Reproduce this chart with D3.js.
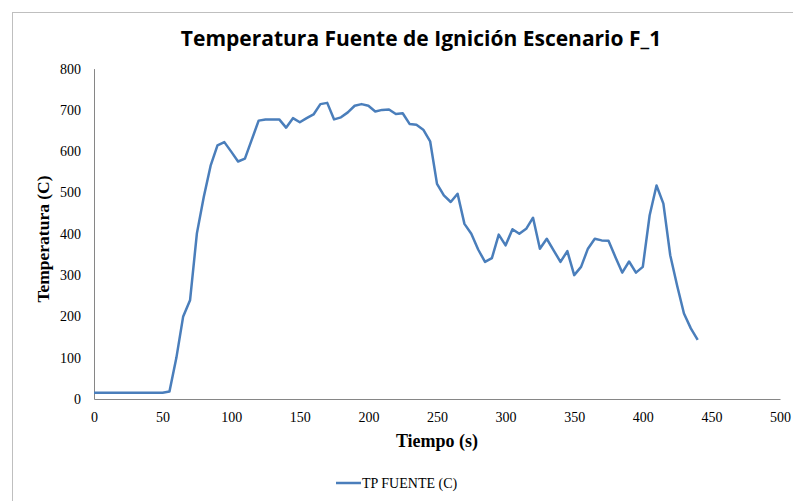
<!DOCTYPE html>
<html>
<head>
<meta charset="utf-8">
<script src="https://cdn.jsdelivr.net/npm/d3@7/dist/d3.min.js"></script>
<style>
  html, body { margin: 0; padding: 0; background: #fff; }
  svg { display: block; }
</style>
</head>
<body>
<svg id="chart" width="793" height="501"></svg>
<script>
// Ignition source temperature, scenario F_1 (time in s, temperature in C)
const tiempo = [0, 5, 10, 15, 20, 25, 30, 35, 40, 45, 50, 55, 60, 65, 70, 75, 80, 85, 90, 95,
  100, 105, 110, 115, 120, 125, 130, 135, 140, 145, 150, 155, 160, 165, 170, 175, 180, 185, 190, 195,
  200, 205, 210, 215, 220, 225, 230, 235, 240, 245, 250, 255, 260, 265, 270, 275, 280, 285, 290, 295,
  300, 305, 310, 315, 320, 325, 330, 335, 340, 345, 350, 355, 360, 365, 370, 375, 380, 385, 390, 395,
  400, 405, 410, 415, 420, 425, 430, 435, 440];
const tpFuente = [15, 15, 15, 15, 15, 15, 15, 15, 15, 15, 15, 18, 99, 200, 239, 401, 489, 565, 614, 622,
  599, 575, 582, 628, 674, 677, 677, 677, 657, 680, 670, 680, 689, 714, 717, 677, 682, 694, 710, 714,
  710, 696, 700, 701, 690, 692, 666, 664, 652, 624, 521, 493, 477, 497, 424, 400, 362, 332, 341, 398,
  372, 411, 400, 412, 439, 364, 388, 360, 332, 358, 300, 320, 364, 388, 384, 383, 344, 306, 333, 306,
  320, 445, 517, 473, 348, 275, 207, 171, 143];
const xTicks = [0, 50, 100, 150, 200, 250, 300, 350, 400, 450, 500];
const yTicks = [0, 100, 200, 300, 400, 500, 600, 700, 800];

const serif = "'Liberation Serif', 'Times New Roman', serif";
const svg = d3.select("#chart");
const plot = { left: 94, right: 780, top: 68.6, bottom: 399 };

const x = d3.scaleLinear().domain([0, 500]).range([plot.left, plot.right]);
const y = d3.scaleLinear().domain([0, 800]).range([plot.bottom, plot.top]);

// outer chart frame
svg.append("rect")
  .attr("x", 12.5).attr("y", 12.5)
  .attr("width", 800).attr("height", 500)
  .attr("fill", "none").attr("stroke", "#bfbfbf").attr("stroke-width", 1);

// title
svg.append("text")
  .attr("x", 421).attr("y", 46)
  .attr("text-anchor", "middle")
  .attr("font-family", "'Open Sans', sans-serif")
  .attr("font-weight", "bold")
  .attr("font-size", 21)
  .attr("fill", "#000")
  .text("Temperatura Fuente de Ignición Escenario F_1");

// axes
const xAxis = d3.axisBottom(x).tickValues(xTicks).tickSize(0).tickPadding(13).tickFormat(d3.format("d"));
const yAxis = d3.axisLeft(y).tickValues(yTicks).tickSize(0).tickPadding(13).tickFormat(d3.format("d"));

const gx = svg.append("g").attr("transform", `translate(0,${plot.bottom})`).call(xAxis);
const gy = svg.append("g").attr("transform", `translate(${plot.left},0)`).call(yAxis);

[gx, gy].forEach(g => {
  g.attr("font-family", serif).attr("font-size", 14);
  g.select(".domain").attr("stroke", "#868686").attr("stroke-width", 1);
  g.selectAll("text").attr("fill", "#000");
});

// axis titles
svg.append("text")
  .attr("x", 437).attr("y", 447)
  .attr("text-anchor", "middle")
  .attr("font-family", serif)
  .attr("font-weight", "bold")
  .attr("font-size", 18)
  .text("Tiempo (s)");

svg.append("text")
  .attr("transform", "translate(49,239) rotate(-90)")
  .attr("text-anchor", "middle")
  .attr("font-family", serif)
  .attr("font-weight", "bold")
  .attr("font-size", 17.5)
  .text("Temperatura (C)");

// series line
const series = tiempo.map((t, i) => ({ t, v: tpFuente[i] }));
const line = d3.line().x(d => x(d.t)).y(d => y(d.v));
svg.append("path")
  .datum(series)
  .attr("d", line)
  .attr("fill", "none")
  .attr("stroke", "#4a7ebb")
  .attr("stroke-width", 2.5)
  .attr("stroke-linejoin", "round");

// legend
const lg = svg.append("g").attr("transform", "translate(336,483)");
lg.append("line")
  .attr("x1", 0).attr("x2", 25).attr("y1", 0).attr("y2", 0)
  .attr("stroke", "#4a7ebb").attr("stroke-width", 2.5);
lg.append("text")
  .attr("x", 26).attr("y", 5)
  .attr("font-family", serif)
  .attr("font-size", 14)
  .text("TP FUENTE (C)");
</script>
</body>
</html>
